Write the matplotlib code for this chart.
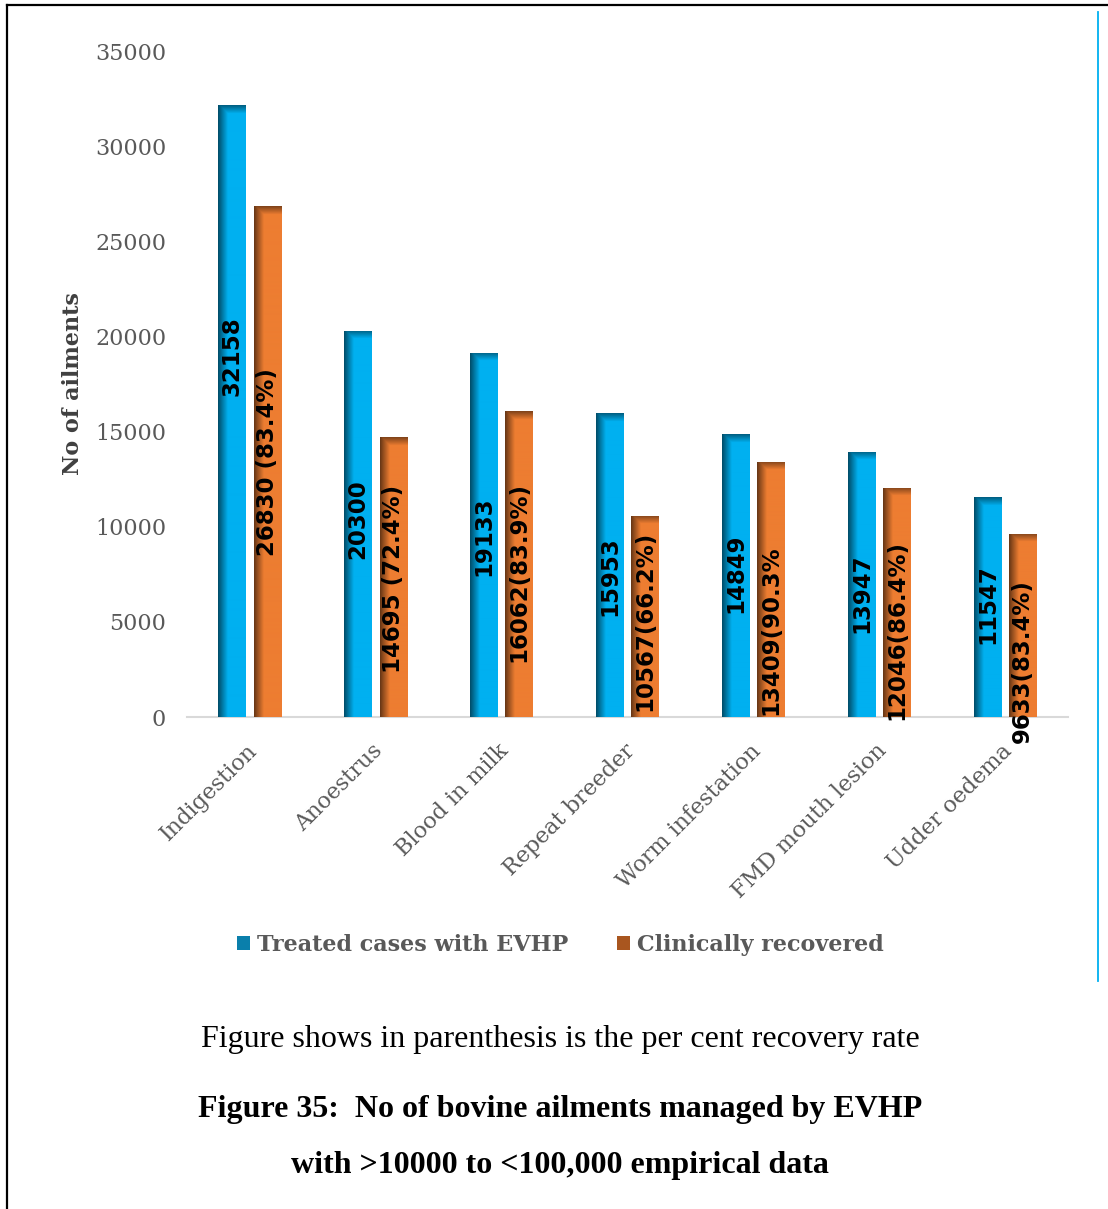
import numpy as np
import matplotlib
matplotlib.use("Agg")
import matplotlib.pyplot as plt
from matplotlib.patches import Patch
from matplotlib.colors import to_rgb

ailments = ["Indigestion", "Anoestrus", "Blood in milk", "Repeat breeder",
            "Worm infestation", "FMD mouth lesion", "Udder oedema"]
treated = [32158, 20300, 19133, 15953, 14849, 13947, 11547]
recovered = [26830, 14695, 16062, 10567, 13409, 12046, 9633]
rec_suffix = [" (83.4%)", " (72.4%)", "(83.9%)", "(66.2%)", "(90.3%", "(86.4%)", "(83.4%)"]
yticks = [0, 5000, 10000, 15000, 20000, 25000, 30000, 35000]

# where the rotated value labels sit inside the bars
treated_lab_y = [18970, 10400, 9510, 7410, 7570, 6520, 5940]
recovered_lab_y = [13400, 7250, 7620, 5040, 4570, 4570, 2940]

BLUE = "#00B0F0"
ORANGE = "#ED7D31"
GRAY = "#595959"

W, H = 1108, 1209
fig = plt.figure(figsize=(W / 100, H / 100), dpi=100)
ax = fig.add_axes([187 / W, 1 - 717 / H, 881 / W, 666 / H])

x = np.arange(len(ailments))
bw = 0.22
b1 = ax.bar(x - 0.14, treated, bw, color=BLUE, zorder=2)
b2 = ax.bar(x + 0.14, recovered, bw, color=ORANGE, zorder=2)


def shade(bars, color):
    # darker left edge and top band to give the bars a bevelled look
    base = np.array(to_rgb(color))
    for p in bars:
        h = p.get_height()
        rows = max(int(h / 35000 * 666), 2)
        cols = 28
        hx = np.linspace(0, 1, cols)
        fx = np.clip(0.45 + hx / 0.35 * 0.55, 0.45, 1.0)
        vy = np.arange(rows)
        fy = np.clip(0.55 + vy / 8 * 0.45, 0.55, 1.0)
        f = np.minimum(fx[None, :], fy[:, None])
        img = base[None, None, :] * f[:, :, None]
        im = ax.imshow(img, extent=[p.get_x(), p.get_x() + p.get_width(), 0, h],
                       aspect="auto", origin="upper", zorder=3, interpolation="bilinear")
        im.set_clip_path(p)


shade(b1, BLUE)
shade(b2, ORANGE)

lab_font = dict(family="DejaVu Sans", fontweight="bold", fontsize=16.5,
                rotation=90, ha="center", va="center", color="black", zorder=5)
for i, p in enumerate(b1):
    ax.text(p.get_x() + p.get_width() / 2, treated_lab_y[i], f"{treated[i]}", **lab_font)
for i, p in enumerate(b2):
    ax.text(p.get_x() + p.get_width() / 2, recovered_lab_y[i],
            f"{recovered[i]}{rec_suffix[i]}", clip_on=False, **lab_font)

ax.set_xlim(-0.5, len(ailments) - 0.5)
ax.set_ylim(0, 35000)
ax.set_yticks(yticks)
ax.set_yticklabels([str(v) for v in yticks], family="DejaVu Serif", fontsize=16, color=GRAY)
ax.set_xticks(x + 0.03)
ax.set_xticklabels(ailments, family="DejaVu Serif", fontsize=16, color=GRAY,
                   rotation=45, ha="right", va="center", rotation_mode="anchor")
ax.tick_params(axis="both", length=0)
ax.tick_params(axis="x", pad=22)
ax.tick_params(axis="y", pad=15)
for s in ["left", "right", "top"]:
    ax.spines[s].set_visible(False)
ax.spines["bottom"].set_color("#d9d9d9")
ax.spines["bottom"].set_linewidth(1.5)
ax.set_facecolor("none")

ax.set_ylabel("No of ailments", family="DejaVu Serif", fontweight="bold",
              fontsize=16, color="#404040", labelpad=8)

handles = [Patch(facecolor="#0a7fab", label="Treated cases with EVHP"),
           Patch(facecolor="#a9561f", label="Clinically recovered")]
fig.legend(handles=handles, loc="center", bbox_to_anchor=(560 / W, 1 - 945 / H),
           ncol=2, frameon=False, handlelength=0.6, handleheight=0.6,
           handletextpad=0.3, columnspacing=2.2,
           prop=dict(family="DejaVu Serif", weight="bold", size=16))
for t in fig.legends[0].get_texts():
    t.set_color(GRAY)

# caption below the chart
fig.text(560 / W, 1 - 1039 / H, "Figure shows in parenthesis is the per cent recovery rate",
         family="Liberation Serif", fontsize=23, ha="center", va="center")
fig.text(560 / W, 1 - 1110 / H, "Figure 35:  No of bovine ailments managed by EVHP",
         family="Liberation Serif", fontweight="bold", fontsize=23, ha="center", va="center")
fig.text(560 / W, 1 - 1166 / H, "with >10000 to <100,000 empirical data",
         family="Liberation Serif", fontweight="bold", fontsize=23, ha="center", va="center")

# page frame and chart border line
fig.add_artist(plt.Line2D([7 / W, 7 / W], [0, 1 - 5 / H], color="black", lw=1.6))
fig.add_artist(plt.Line2D([7 / W, 1], [1 - 5 / H, 1 - 5 / H], color="black", lw=1.6))
fig.add_artist(plt.Line2D([1098 / W, 1098 / W], [1 - 12 / H, 1 - 981 / H], color=BLUE, lw=1.3))

fig.savefig("out.png", dpi=100)
